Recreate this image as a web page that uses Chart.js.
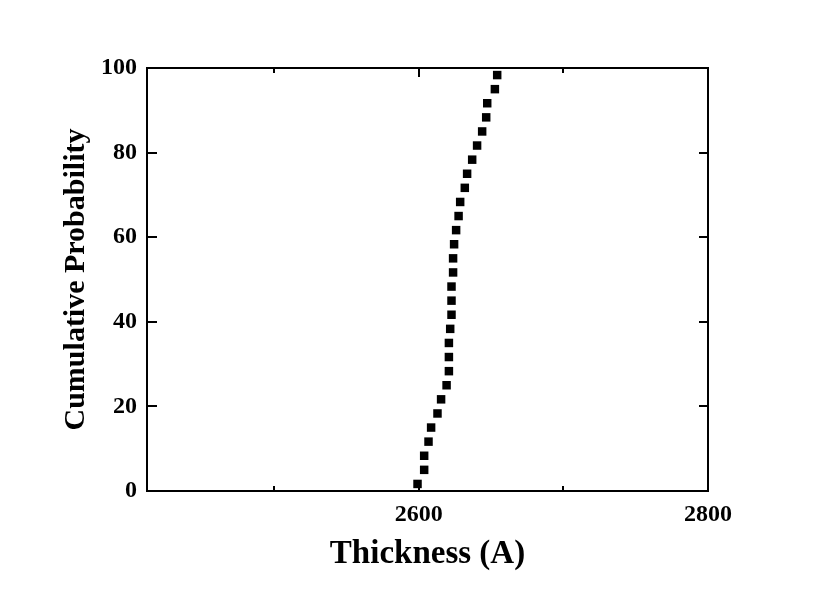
<!DOCTYPE html>
<html>
<head>
<meta charset="utf-8">
<script src="https://cdn.jsdelivr.net/npm/chart.js@4.4.1/dist/chart.umd.min.js"></script>
<style>
  body { margin: 0; background: #fff; }
  #wrap { width: 822px; height: 590px; }
</style>
</head>
<body>
<div id="wrap"><canvas id="myChart" width="822" height="590"></canvas></div>
<script>
// thickness readings (A), bottom to top
var thickness = [2599.1, 2603.7, 2603.7, 2606.7, 2608.5, 2612.9, 2615.4, 2619.2, 2620.8, 2620.8,
                 2620.8, 2621.7, 2622.6, 2622.6, 2622.6, 2623.7, 2623.7, 2624.4, 2625.8, 2627.5,
                 2628.6, 2631.8, 2633.4, 2636.9, 2640.3, 2643.8, 2646.6, 2647.3, 2652.6, 2654.2];
var probability = [1.67, 5.00, 8.33, 11.67, 15.00, 18.33, 21.67, 25.00, 28.33, 31.67,
                   35.00, 38.33, 41.67, 45.00, 48.33, 51.67, 55.00, 58.33, 61.67, 65.00,
                   68.33, 71.67, 75.00, 78.33, 81.67, 85.00, 88.33, 91.67, 95.00, 98.33];
var xTicks = [2600, 2800];
var xMinorTicks = [2500, 2700];
var yTicks = [0, 20, 40, 60, 80, 100];

var points = [];
for (let i = 0; i < thickness.length; i++) {
  points.push({x: thickness[i], y: probability[i]});
}

// frame with inward ticks, like the original plot
var framePlugin = {
  id: 'frame',
  afterDraw(chart) {
    const ctx = chart.ctx;
    const a = chart.chartArea;
    const xs = chart.scales.x, ys = chart.scales.y;
    ctx.save();
    ctx.strokeStyle = '#000';
    ctx.lineWidth = 2;
    ctx.strokeRect(a.left, a.top, a.right - a.left, a.bottom - a.top);
    ctx.beginPath();
    xTicks.forEach(v => {
      let px = Math.round(xs.getPixelForValue(v));
      ctx.moveTo(px, a.bottom); ctx.lineTo(px, a.bottom - 9);
      ctx.moveTo(px, a.top); ctx.lineTo(px, a.top + 9);
    });
    xMinorTicks.forEach(v => {
      let px = Math.round(xs.getPixelForValue(v));
      ctx.moveTo(px, a.bottom); ctx.lineTo(px, a.bottom - 5);
      ctx.moveTo(px, a.top); ctx.lineTo(px, a.top + 5);
    });
    yTicks.forEach(v => {
      let py = Math.round(ys.getPixelForValue(v));
      ctx.moveTo(a.left, py); ctx.lineTo(a.left + 10, py);
      ctx.moveTo(a.right, py); ctx.lineTo(a.right - 9, py);
    });
    ctx.stroke();
    ctx.restore();
  }
};

const ctx1 = document.getElementById('myChart').getContext('2d');
var graph = new Chart(ctx1, {
  type: 'scatter',
  data: {
    datasets: [{
      label: 'Cumulative Probability',
      data: points,
      pointStyle: 'rect',
      pointRadius: 6,
      pointBorderWidth: 0,
      backgroundColor: '#000',
      borderColor: '#000'
    }]
  },
  options: {
    responsive: false,
    animation: false,
    layout: { padding: { left: 0, top: 68, right: 114, bottom: 0 } },
    plugins: {
      legend: { display: false },
      tooltip: { enabled: false }
    },
    scales: {
      x: {
        type: 'linear',
        min: 2412,
        max: 2800,
        afterFit(scale) { scale.height = 99; },
        afterBuildTicks(scale) { scale.ticks = xTicks.map(v => ({value: v})); },
        grid: { display: false, drawTicks: false },
        border: { display: false },
        ticks: {
          color: '#000',
          padding: 9,
          maxRotation: 0,
          callback: (v) => String(v),
          font: { family: 'Liberation Serif', weight: 'bold', size: 24 }
        },
        title: {
          display: true,
          text: 'Thickness (A)',
          color: '#000',
          padding: { top: 0, bottom: 16 },
          font: { family: 'Liberation Serif', weight: 'bold', size: 33 }
        }
      },
      y: {
        min: 0,
        max: 100,
        afterFit(scale) { scale.width = 147; },
        afterBuildTicks(scale) { scale.ticks = yTicks.map(v => ({value: v})); },
        grid: { display: false, drawTicks: false },
        border: { display: false },
        ticks: {
          color: '#000',
          padding: 10,
          callback: (v) => String(v),
          font: { family: 'Liberation Serif', weight: 'bold', size: 24 }
        },
        title: {
          display: true,
          text: 'Cumulative Probability',
          color: '#000',
          padding: { top: 58, bottom: 0 },
          font: { family: 'Liberation Serif', weight: 'bold', size: 30 }
        }
      }
    }
  },
  plugins: [framePlugin]
});
</script>
</body>
</html>
